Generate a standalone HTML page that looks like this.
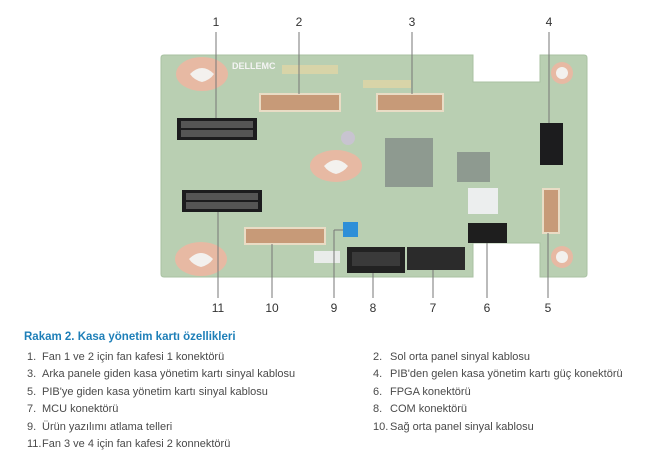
<!DOCTYPE html>
<html><head><meta charset="utf-8"><style>
body{margin:0;background:#fff;width:654px;height:470px;overflow:hidden;font-family:"Liberation Sans",sans-serif}
.t{position:absolute;font-size:11px;color:#4a4a4a;white-space:nowrap}
</style></head><body>
<svg width="654" height="320" style="position:absolute;left:0;top:0" font-family="Liberation Sans" font-size="12" fill="#333">
<path d="M164,55 H473 V82 H540 V55 H584 Q587,55 587,58 V274 Q587,277 584,277 H540 V243 H473 V277 H164 Q161,277 161,274 V58 Q161,55 164,55Z" fill="#b9cfb2" stroke="#a9c2a2"/>
<!-- keyhole pads -->
<g fill="#e7b9a3"><ellipse cx="202" cy="74" rx="26" ry="17"/><ellipse cx="336" cy="166" rx="26" ry="16"/><ellipse cx="201" cy="259" rx="26" ry="17"/></g>
<g fill="#f3f1ee"><path d="M190,74 Q202,62 214,74 Q210,80 202,82 Q194,80 190,74Z"/><path d="M324,166 Q336,154 348,166 Q344,172 336,174 Q328,172 324,166Z"/><path d="M189,259 Q201,247 213,259 Q209,265 201,267 Q193,265 189,259Z"/></g>
<g><circle cx="562" cy="73" r="11" fill="#e7b9a3"/><circle cx="562" cy="73" r="6" fill="#f3f1ee"/><circle cx="562" cy="257" r="11" fill="#e7b9a3"/><circle cx="562" cy="257" r="6" fill="#f3f1ee"/></g>
<text x="232" y="69" font-size="9" fill="#f4f4f4" font-weight="bold">DELLEMC</text>
<rect x="282" y="65" width="56" height="9" fill="#d8d4a8"/><rect x="363" y="80" width="48" height="8" fill="#d8d4a8"/>
<!-- chips -->
<rect x="385" y="138" width="48" height="49" fill="#8e9a90"/><rect x="457" y="152" width="33" height="30" fill="#8e9a90"/>
<rect x="468" y="188" width="30" height="26" fill="#eceeee"/>
<circle cx="348" cy="138" r="7" fill="#c8c4d0"/>
<!-- black connectors -->
<rect x="177" y="118" width="80" height="22" fill="#1c1c1e"/><rect x="182" y="190" width="80" height="22" fill="#1c1c1e"/>
<rect x="540" y="123" width="23" height="42" fill="#1c1c1e"/>
<rect x="468" y="223" width="39" height="20" fill="#1e1e1e"/>
<rect x="347" y="247" width="58" height="26" fill="#222"/><rect x="352" y="252" width="48" height="14" fill="#3a3a3a"/>
<rect x="407" y="247" width="58" height="23" fill="#2b2b2b"/>
<g fill="#555"><rect x="181" y="121" width="72" height="7"/><rect x="181" y="130" width="72" height="7"/><rect x="186" y="193" width="72" height="7"/><rect x="186" y="202" width="72" height="7"/></g>
<!-- ribbons -->
<g fill="#c79a78" stroke="#e9dcc5" stroke-width="2"><rect x="260" y="94" width="80" height="17"/><rect x="377" y="94" width="66" height="17"/><rect x="245" y="228" width="80" height="16"/><rect x="543" y="189" width="16" height="44"/></g>
<rect x="343" y="222" width="15" height="15" fill="#2e8fd8"/>
<rect x="314" y="251" width="26" height="12" fill="#e9ecea"/>
<!-- leader lines -->
<g stroke="#777" stroke-width="1"><line x1="216" y1="32" x2="216" y2="118"/><line x1="299" y1="32" x2="299" y2="94"/><line x1="412" y1="32" x2="412" y2="94"/><line x1="549" y1="32" x2="549" y2="123"/>
<line x1="218" y1="212" x2="218" y2="298"/><line x1="272" y1="244" x2="272" y2="298"/><line x1="334" y1="230" x2="334" y2="298"/><line x1="334" y1="230" x2="343" y2="230"/><line x1="373" y1="273" x2="373" y2="298"/><line x1="433" y1="270" x2="433" y2="298"/><line x1="487" y1="243" x2="487" y2="298"/><line x1="548" y1="233" x2="548" y2="298"/></g>
<g text-anchor="middle"><text x="216" y="26">1</text><text x="299" y="26">2</text><text x="412" y="26">3</text><text x="549" y="26">4</text>
<text x="218" y="312">11</text><text x="272" y="312">10</text><text x="334" y="312">9</text><text x="373" y="312">8</text><text x="433" y="312">7</text><text x="487" y="312">6</text><text x="548" y="312">5</text></g>
</svg>
<div class="t" style="left:24px;top:331px;color:#1e7fb8;font-weight:bold;font-size:11.5px">Rakam 2. Kasa yönetim kartı özellikleri</div>
<div class="t" style="left:27px;top:351px">1.</div><div class="t" style="left:42px;top:351px">Fan 1 ve 2 için fan kafesi 1 konektörü</div>
<div class="t" style="left:27px;top:368px">3.</div><div class="t" style="left:42px;top:368px">Arka panele giden kasa yönetim kartı sinyal kablosu</div>
<div class="t" style="left:27px;top:386px">5.</div><div class="t" style="left:42px;top:386px">PIB'ye giden kasa yönetim kartı sinyal kablosu</div>
<div class="t" style="left:27px;top:403px">7.</div><div class="t" style="left:42px;top:403px">MCU konektörü</div>
<div class="t" style="left:27px;top:421px">9.</div><div class="t" style="left:42px;top:421px">Ürün yazılımı atlama telleri</div>
<div class="t" style="left:27px;top:438px">11.</div><div class="t" style="left:42px;top:438px">Fan 3 ve 4 için fan kafesi 2 konnektörü</div>
<div class="t" style="left:373px;top:351px">2.</div><div class="t" style="left:390px;top:351px">Sol orta panel sinyal kablosu</div>
<div class="t" style="left:373px;top:368px">4.</div><div class="t" style="left:390px;top:368px">PIB'den gelen kasa yönetim kartı güç konektörü</div>
<div class="t" style="left:373px;top:386px">6.</div><div class="t" style="left:390px;top:386px">FPGA konektörü</div>
<div class="t" style="left:373px;top:403px">8.</div><div class="t" style="left:390px;top:403px">COM konektörü</div>
<div class="t" style="left:373px;top:421px">10.</div><div class="t" style="left:390px;top:421px">Sağ orta panel sinyal kablosu</div>
</body></html>
